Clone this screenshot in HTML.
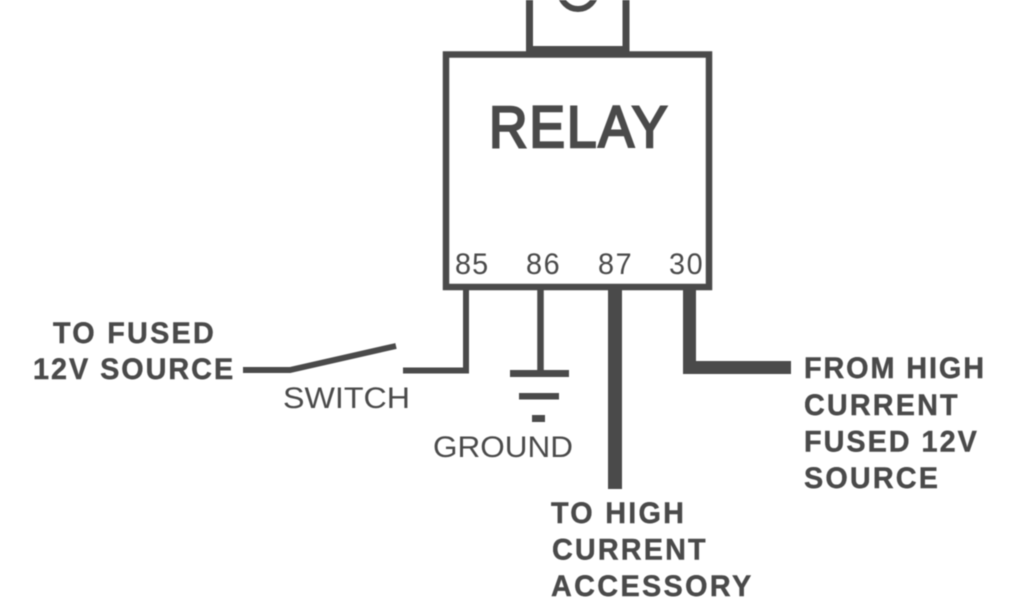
<!DOCTYPE html>
<html><head><meta charset="utf-8"><style>
html,body{margin:0;padding:0;background:#fff;width:1024px;height:600px;overflow:hidden}
svg{display:block;filter:blur(.4px)}
text{font-family:"Liberation Sans",sans-serif;fill:#4a4a4a}
.b{font-weight:bold;font-size:30px;stroke:#4a4a4a;stroke-width:.4px}
.r{font-size:30px}
.n{font-size:30px}
</style></head><body>
<svg width="1024" height="600" viewBox="0 0 1024 600" xmlns="http://www.w3.org/2000/svg">
<rect width="1024" height="600" fill="#fff"/>
<g fill="none" stroke="#4a4a4a">
<rect x="446" y="54.500" width="263" height="232.500" stroke-width="6.500"/>
<path d="M529.500 0V49.500H626V0" stroke-width="7"/>
<rect x="526" y="46" width="103" height="9" fill="#4a4a4a" stroke="none"/>
<circle cx="578" cy="-9" r="18" stroke-width="6"/>
<path d="M466 290V370.500H403" stroke-width="6"/>
<path d="M540.500 290V372" stroke-width="6.500"/>
<path d="M615 290V489" stroke-width="14"/>
<path d="M689.500 290V367.500H791" stroke-width="13"/>
<path d="M243 370H290L396 346" stroke-width="6"/>
</g>
<g fill="#4a4a4a">
<rect x="510" y="370" width="59" height="7"/>
<rect x="519" y="393" width="40" height="6.500"/>
<rect x="532" y="415" width="13" height="7"/>
</g>
<text transform="translate(489,147) scale(.92,1)" font-size="58" stroke="#4a4a4a" stroke-width="2.400" textLength="194" lengthAdjust="spacing">RELAY</text>
<text class="n" transform="translate(455,274) scale(.96,1)" textLength="34.500" lengthAdjust="spacing">85</text>
<text class="n" transform="translate(526,274) scale(.96,1)" textLength="35" lengthAdjust="spacing">86</text>
<text class="n" transform="translate(598,274) scale(.96,1)" textLength="35" lengthAdjust="spacing">87</text>
<text class="n" transform="translate(669,274) scale(.96,1)" textLength="35" lengthAdjust="spacing">30</text>
<text class="b" transform="translate(53,343) scale(.96,1)" textLength="167.500" lengthAdjust="spacing">TO FUSED</text>
<text class="b" transform="translate(33,379) scale(.96,1)" textLength="208.500" lengthAdjust="spacing">12V SOURCE</text>
<text class="r" x="283" y="408" textLength="127" lengthAdjust="spacingAndGlyphs">SWITCH</text>
<text class="r" x="433" y="457" textLength="140" lengthAdjust="spacingAndGlyphs">GROUND</text>
<text class="b" transform="translate(551,523) scale(.96,1)" textLength="138.500" lengthAdjust="spacing">TO HIGH</text>
<text class="b" transform="translate(552,559.500) scale(.96,1)" textLength="160" lengthAdjust="spacing">CURRENT</text>
<text class="b" transform="translate(551,596) scale(.96,1)" textLength="208.500" lengthAdjust="spacing">ACCESSORY</text>
<text class="b" transform="translate(804,378) scale(.96,1)" textLength="187.500" lengthAdjust="spacing">FROM HIGH</text>
<text class="b" transform="translate(804,415) scale(.96,1)" textLength="160" lengthAdjust="spacing">CURRENT</text>
<text class="b" transform="translate(804,451.500) scale(.96,1)" textLength="180" lengthAdjust="spacing">FUSED 12V</text>
<text class="b" transform="translate(804,488) scale(.96,1)" textLength="139.500" lengthAdjust="spacing">SOURCE</text>
</svg>
</body></html>
